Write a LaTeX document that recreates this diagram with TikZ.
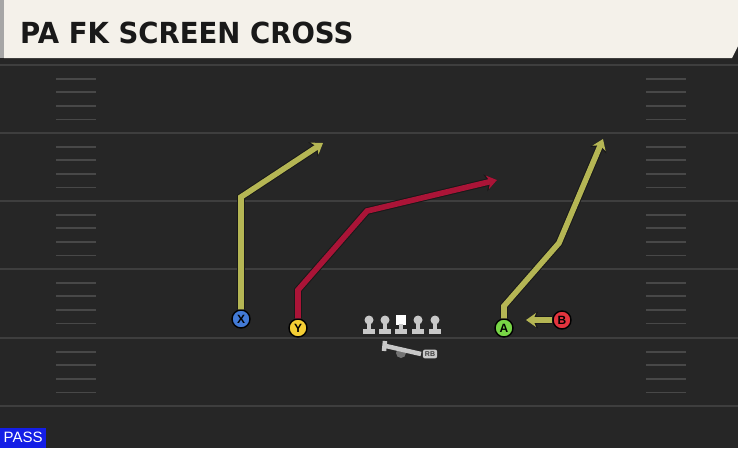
\documentclass[tikz,border=0pt]{standalone}
\usepackage{fontspec}
\setmainfont{Liberation Sans}
\newfontfamily\titlefont{DejaVu Sans}
\usepackage{tikz}
\usetikzlibrary{shapes, arrows.meta, positioning, calc}
\definecolor{fieldgray}{RGB}{38, 38, 38}
\definecolor{yardline}{RGB}{62, 62, 62}
\definecolor{hashgray}{RGB}{72, 72, 72}
\definecolor{headcream}{RGB}{244, 241, 234}
\definecolor{routeolive}{RGB}{181, 182, 84}
\definecolor{routered}{RGB}{170, 20, 55}
\definecolor{xblue}{RGB}{66, 122, 214}
\definecolor{yyellow}{RGB}{244, 206, 52}
\definecolor{agreen}{RGB}{120, 214, 70}
\definecolor{bred}{RGB}{226, 52, 62}
\definecolor{passblue}{RGB}{20, 30, 230}
\definecolor{olgray}{RGB}{200, 200, 200}

\tikzset{
  plyr/.style={circle, draw=black, line width=1.4pt, minimum size=18pt, inner sep=0pt,
    font=\bfseries\fontsize{12}{12}\selectfont},
  rtebg/.style={draw=black!90, line width=7.6pt, line join=miter,
    -{Stealth[length=12pt, width=17pt, inset=3.5pt]}},
  rte/.style={line width=5.6pt, line join=miter, -{Stealth[length=10pt, width=14pt, inset=3pt]}},
  lman/.style={olgray, line width=4.5pt},
}

\begin{document}
\begin{tikzpicture}[x=1pt, y=-1pt]
  \useasboundingbox (0,0) rectangle (738,448);
  \fill[fieldgray] (0,0) rectangle (738,448);

  % yard lines and hashes
  \foreach \yy in {65, 133, 201, 269, 338, 406}
    \draw[yardline, line width=2pt] (0,\yy) -- (738,\yy);
  \foreach \yy in {65, 133, 201, 269, 338} {
    \foreach \k in {1,2,3,4}
      \draw[hashgray, line width=1.8pt] (56,\yy+13.6*\k) -- (96,\yy+13.6*\k)
        (646,\yy+13.6*\k) -- (686,\yy+13.6*\k);
  }

  % header
  \fill[black!85] (0,57) rectangle (738,63);
  \fill[black!35] (0,0) rectangle (4,58);
  \fill[headcream] (4,0) -- (738,0) -- (738,46) -- (732,58) -- (4,58) -- cycle;
  \node[anchor=west, font=\titlefont\bfseries\fontsize{29}{29}\selectfont, text=black!90,
    xscale=0.95, inner sep=0pt] (title) at (20,33) {PA FK SCREEN CROSS};

  % players
  \node[plyr, fill=xblue] (X) at (241,319) {X};
  \node[plyr, fill=yyellow] (Y) at (298,328) {Y};
  \node[plyr, fill=agreen] (A) at (504,328) {A};
  \node[plyr, fill=bred] (B) at (562,320) {B};

  \coordinate (xbrk) at (241,197);
  \coordinate (xend) at (323,143);
  \coordinate (ybrk1) at (298,290);
  \coordinate (ybrk2) at (367,211);
  \coordinate (yend) at (497,180);
  \coordinate (abrk1) at (504,306);
  \coordinate (abrk2) at (559,243);
  \coordinate (aend) at (603,139);
  \coordinate (bend) at (526,320);

  % routes (dark edge first)
  \draw[rtebg] (X) -- (xbrk) -- (xend);
  \draw[rtebg] (Y) -- (ybrk1) -- (ybrk2) -- (yend);
  \draw[rtebg] (A) -- (abrk1) -- (abrk2) -- (aend);
  \draw[rtebg] (B) -- (bend);
  \draw[rte, routeolive] (X) -- (xbrk) -- (xend);
  \draw[rte, routered] (Y) -- (ybrk1) -- (ybrk2) -- (yend);
  \draw[rte, routeolive] (A) -- (abrk1) -- (abrk2) -- (aend);
  \draw[rte, routeolive] (B) -- (bend);

  % offensive line
  \foreach \xx in {369, 385, 418, 435} {
    \fill[olgray] (\xx,320) circle (4.5pt);
    \draw[lman] (\xx,320) -- (\xx,331);
    \fill[olgray] (\xx-6,329) rectangle (\xx+6,334);
  }
  \node[fill=white, minimum size=10pt, inner sep=0pt] (ctr) at (401,320) {};
  \draw[lman] (401,324) -- (401,331);
  \fill[olgray] (395,329) rectangle (407,334);

  % running back
  \fill[black!55] (401,353) circle (5pt);
  \draw[lman] (386,346) -- (421,354);
  \draw[lman] (385,341) -- (384,351);
  \node[fill=olgray, rounded corners=2pt, inner sep=2pt,
    font=\bfseries\fontsize{7}{7}\selectfont, text=black!75] (rb) at (430,354) {RB};

  % play type
  \node[fill=passblue, anchor=south west, inner sep=0pt, minimum width=46pt,
    minimum height=20pt, text=white, font=\fontsize{15}{15}\selectfont] (pass) at (0,448) {PASS};
\end{tikzpicture}
\end{document}
